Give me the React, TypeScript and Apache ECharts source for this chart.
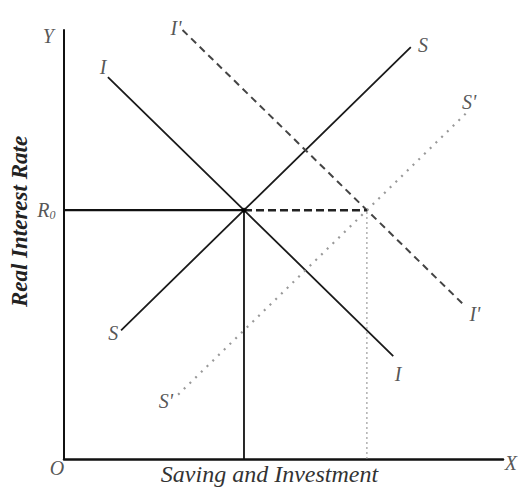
import React, { useEffect, useRef } from "react";
import * as echarts from "echarts";

const curveI = [[10, 89], [41, 58], [75, 24]];
const curveS = [[13, 30], [41, 58], [79, 96]];
const curveI2 = [[27, 100], [69, 58], [91, 36]];
const curveS2 = [[26, 15], [69, 58], [92, 81]];
const rateLine = [[0, 58], [41, 58]];
const shiftLine = [[41, 58], [69, 58]];
const eqDrop = [[41, 0], [41, 58]];
const newEqDrop = [[69, 0], [69, 58]];
const equilibrium = [[41, 58]];

const labelTexts = ["Y", "I'", "I", "S", "S'", "R{sub|0}", "S", "S'", "I", "I'", "O", "X"];
const labelX = [-3.6, 25.5, 8.9, 81.8, 92.3, -4.0, 11.2, 23.2, 76.1, 93.6, -1.6, 101.8];
const labelY = [98.6, 100.5, 91.4, 96.5, 83.2, 58, 29.4, 13.5, 19.8, 33.8, -2.1, -0.9];

const xTitle = "Saving and Investment";
const yTitle = "Real Interest Rate";

const FONT = "'Liberation Serif', 'DejaVu Serif', serif";

export default function App() {
  const ref = useRef<HTMLDivElement>(null);
  useEffect(() => {
    if (!ref.current) return;
    const chart = echarts.init(ref.current, null, { renderer: "svg" });
    const lineSeries = (data: number[][], color: string, width: number, type: any) => ({
      type: "line",
      data,
      symbol: "none",
      clip: false,
      silent: true,
      lineStyle: { color, width, type, cap: "butt" },
      z: 3,
    });
    chart.setOption({
      animation: false,
      backgroundColor: "#ffffff",
      grid: { left: 64, top: 30, right: 15, bottom: 30, containLabel: false, outerBoundsMode: "none" },
      xAxis: {
        type: "value",
        min: 0,
        max: 100,
        name: xTitle,
        nameLocation: "middle",
        nameGap: 3,
        nameTextStyle: {
          fontFamily: FONT,
          fontStyle: "italic",
          fontSize: 24,
          color: "#333",
          padding: [0, 28, 0, 0],
        },
        axisLine: { show: true, onZero: false, lineStyle: { color: "#111", width: 2.5 } },
        axisTick: { show: false },
        axisLabel: { show: false },
        splitLine: { show: false },
      },
      yAxis: {
        type: "value",
        min: 0,
        max: 100,
        name: yTitle,
        nameLocation: "middle",
        nameGap: 33,
        nameRotate: 90,
        nameTextStyle: {
          fontFamily: FONT,
          fontStyle: "italic",
          fontWeight: "bold",
          fontSize: 23,
          color: "#222",
          padding: [0, 0, 0, 46],
        },
        axisLine: { show: true, onZero: false, lineStyle: { color: "#111", width: 2 } },
        axisTick: { show: false },
        axisLabel: { show: false },
        splitLine: { show: false },
      },
      series: [
        lineSeries(curveI, "#1a1a1a", 1.8, "solid"),
        lineSeries(curveS, "#1a1a1a", 1.8, "solid"),
        lineSeries(curveI2, "#444", 2, [7, 5]),
        lineSeries(curveS2, "#999", 2.2, [2, 6]),
        lineSeries(rateLine, "#111", 2.2, "solid"),
        lineSeries(shiftLine, "#222", 2.5, [8, 4]),
        lineSeries(eqDrop, "#111", 1.8, "solid"),
        lineSeries(newEqDrop, "#888", 1, [2, 3]),
        {
          type: "scatter",
          data: equilibrium,
          symbol: "circle",
          symbolSize: 5,
          itemStyle: { color: "#000" },
          silent: true,
          z: 5,
        },
        {
          type: "scatter",
          clip: false,
          silent: true,
          symbolSize: 0,
          data: labelTexts.map((t, i) => ({ value: [labelX[i], labelY[i]], name: t })),
          label: {
            show: true,
            position: "inside",
            formatter: (p: any) => p.name,
            fontFamily: FONT,
            fontStyle: "italic",
            fontSize: 20,
            color: "#2a2a2a",
            rich: {
              sub: { fontFamily: FONT, fontStyle: "italic", fontSize: 12, color: "#2a2a2a", verticalAlign: "bottom", padding: [10, 0, 0, 0] },
            },
          },
          z: 6,
        },
      ],
    });
    return () => chart.dispose();
  }, []);
  return <div ref={ref} style={{ position: "fixed", left: 0, top: 0, width: 518, height: 489, background: "#fff" }} />;
}
